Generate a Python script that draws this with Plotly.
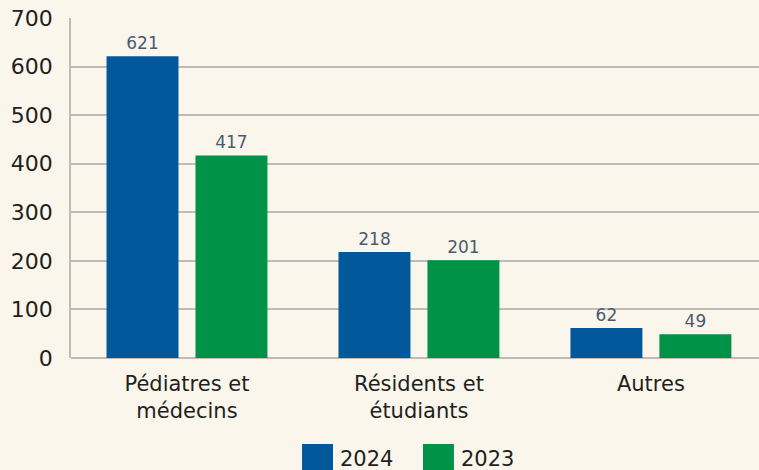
import plotly.graph_objects as go

categories = ["Pédiatres et<br>médecins", "Résidents et<br>étudiants", "Autres"]
series_names = ["2024", "2023"]
values_2024 = [621, 218, 62]
values_2023 = [417, 201, 49]
y_ticks = [0, 100, 200, 300, 400, 500, 600, 700]

colors = ["#03589B", "#009247"]
bg = "#FAF6EB"
text_dark = "#231F20"
label_color = "#4B5A70"
font_family = "'DejaVu Sans', sans-serif"

fig = go.Figure()
for name, vals, col in zip(series_names, [values_2024, values_2023], colors):
    fig.add_trace(go.Bar(
        x=categories, y=vals, name=name,
        marker=dict(color=col, line=dict(width=0)),
        text=[str(v) for v in vals], textposition="outside",
        textfont=dict(size=17, color=label_color, family=font_family),
        cliponaxis=False, showlegend=False,
    ))

fig.update_layout(
    width=759, height=470,
    paper_bgcolor=bg, plot_bgcolor=bg,
    margin=dict(l=71, r=0, t=18, b=112),
    barmode="group", bargap=0.233, bargroupgap=0.191,
    font=dict(family=font_family, color=text_dark, size=21),
    xaxis=dict(range=[-0.5, 2.466], showgrid=False, showline=False,
               tickfont=dict(size=21, color=text_dark), ticklabelstandoff=11,
               fixedrange=True),
    yaxis=dict(range=[0, 700], tickvals=y_ticks, showgrid=True,
               gridcolor="#BFBCB6", gridwidth=1.5,
               showline=True, linecolor="#BFBCB6", linewidth=1.5,
               zeroline=True, zerolinecolor="#BFBCB6", zerolinewidth=1.5,
               tickfont=dict(size=22, color=text_dark), ticklabelstandoff=12,
               fixedrange=True),
)

# Manual legend (large square swatches)
legend_x = [0.3358, 0.5116]
sw_w = 0.045
for name, col, lx in zip(series_names, colors, legend_x):
    fig.add_shape(type="rect", xref="paper", yref="paper",
                  x0=lx, x1=lx + sw_w, y0=-0.34, y1=-0.253,
                  fillcolor=col, line=dict(width=0))
    fig.add_annotation(xref="paper", yref="paper", x=lx + sw_w + 0.008, y=-0.297,
                       text=name, showarrow=False, xanchor="left", yanchor="middle",
                       font=dict(size=21, color=text_dark, family=font_family))

fig.write_html("out.html", config={"displayModeBar": False},
               post_script="document.body.style.margin='0';document.body.style.padding='0';document.body.style.overflow='hidden';")
